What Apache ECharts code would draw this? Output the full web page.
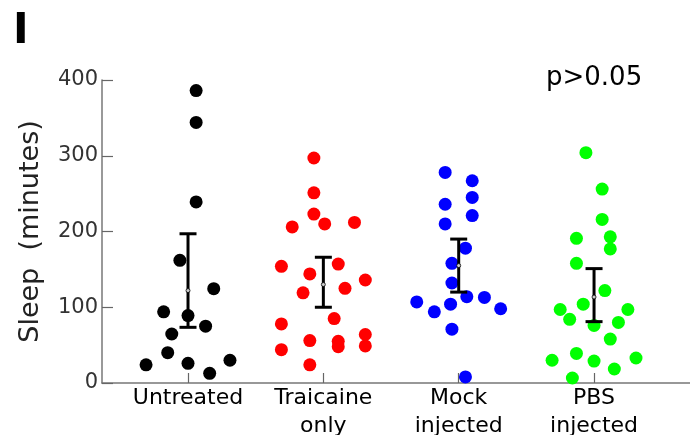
<!DOCTYPE html>
<html>
<head>
<meta charset="utf-8">
<script src="https://cdn.jsdelivr.net/npm/echarts@6/dist/echarts.min.js"></script>
<style>
  html, body { margin: 0; padding: 0; background: #fff; }
  #chart { width: 690px; height: 435px; }
</style>
</head>
<body>
<div id="chart"></div>
<script>
// Group names (x-axis labels)
const categories = ['Untreated', 'Traicaine\nonly', 'Mock\ninjected', 'PBS\ninjected'];
const groupColors = ['#000000', '#ff0000', '#0000ff', '#00ff00'];

// Sleep per fish (minutes) and horizontal spread within each group (fraction of group spacing)
const untreatedSleep  = [386, 344, 239, 162, 124.5, 94, 89, 75, 64.7, 40, 24, 26, 30, 12.8];
const untreatedSpread = [0.06, 0.06, 0.06, -0.06, 0.19, -0.18, 0, 0.13, -0.12, -0.15, -0.31, 0, 0.31, 0.16];

const traicaineSleep  = [297, 251, 223, 206, 210, 212, 154, 157, 144, 136, 119, 125, 85, 78, 56, 55, 48, 64, 49, 44, 24];
const traicaineSpread = [-0.07, -0.07, -0.07, -0.23, 0.01, 0.23, -0.31, 0.11, -0.10, 0.31, -0.15, 0.16, 0.08, -0.31, -0.10, 0.11, 0.11, 0.31, 0.31, -0.31, -0.10];

const mockSleep  = [278, 267, 245, 236, 221, 210, 178, 158, 132, 114, 113, 107, 104, 94, 98, 71, 8];
const mockSpread = [-0.10, 0.10, 0.10, -0.10, 0.10, -0.10, 0.05, -0.05, -0.05, 0.06, 0.19, -0.31, -0.06, -0.18, 0.31, -0.05, 0.05];

const pbsSleep  = [304, 256, 216, 191, 193, 177, 158, 122, 104, 97, 97, 84, 76, 80, 58, 39, 30, 29, 33, 18.5, 6.6];
const pbsSpread = [-0.06, 0.06, 0.06, -0.13, 0.12, 0.12, -0.13, 0.08, -0.08, -0.25, 0.25, -0.18, 0, 0.18, 0.12, -0.13, -0.31, 0, 0.31, 0.15, -0.16];

// Group mean with error-bar limits
const groupMeans = [122, 130, 155, 113.5];
const errorLow   = [73.5, 100, 120, 81];
const errorHigh  = [197, 166, 190, 151];

const yTickValues = [0, 100, 200, 300, 400];

const groups = [
  [untreatedSleep, untreatedSpread],
  [traicaineSleep, traicaineSpread],
  [mockSleep, mockSpread],
  [pbsSleep, pbsSpread]
];

const FONT = 'DejaVu Sans';
const groupPos = categories.map((_, i) => i + 1);

const dotSeries = groups.map(([vals, spread], g) => ({
  type: 'scatter',
  symbol: 'circle',
  symbolSize: 13,
  itemStyle: { color: groupColors[g], opacity: 1 },
  z: 2,
  silent: true,
  data: vals.map((v, k) => [groupPos[g] + spread[k], v])
}));

const errorSeries = {
  type: 'custom',
  z: 5,
  silent: true,
  renderItem: function (params, api) {
    const x = api.value(0);
    const pLo = api.coord([x, api.value(1)]);
    const pHi = api.coord([x, api.value(2)]);
    const half = 8.5;
    const st = { stroke: '#000', lineWidth: 3 };
    return {
      type: 'group',
      children: [
        { type: 'line', shape: { x1: pHi[0], y1: pHi[1], x2: pLo[0], y2: pLo[1] }, style: st },
        { type: 'line', shape: { x1: pHi[0] - half, y1: pHi[1], x2: pHi[0] + half, y2: pHi[1] }, style: st },
        { type: 'line', shape: { x1: pLo[0] - half, y1: pLo[1], x2: pLo[0] + half, y2: pLo[1] }, style: st }
      ]
    };
  },
  encode: { x: 0, y: [1, 2] },
  data: groupPos.map((x, i) => [x, errorLow[i], errorHigh[i]])
};

const meanSeries = {
  type: 'scatter',
  symbol: 'circle',
  symbolSize: 4,
  z: 6,
  silent: true,
  itemStyle: { color: '#fff', borderColor: '#000', borderWidth: 1 },
  data: groupPos.map((x, i) => [x, groupMeans[i]])
};

const chart = echarts.init(document.getElementById('chart'), null, { renderer: 'canvas' });
chart.setOption({
  animation: false,
  backgroundColor: '#fff',
  grid: { left: 102, right: 0, top: 80, bottom: 52, outerBoundsMode: 'none', containLabel: false },
  xAxis: {
    type: 'value',
    min: 0.3645,
    max: 4.709,
    splitLine: { show: false },
    axisLine: { show: true, onZero: false, lineStyle: { color: '#777', width: 1.5 } },
    axisTick: { show: true, inside: true, length: 10, customValues: groupPos, lineStyle: { color: '#666', width: 1.2 } },
    axisLabel: {
      customValues: groupPos,
      formatter: v => categories[Math.round(v) - 1],
      fontFamily: FONT, fontSize: 22, color: '#000', lineHeight: 28, margin: 1
    }
  },
  yAxis: {
    type: 'value',
    min: 0, max: 400, interval: 100,
    splitLine: { show: false },
    axisLine: { show: true, lineStyle: { color: '#777', width: 1.5 } },
    axisTick: { show: true, inside: true, length: 11, lineStyle: { color: '#666', width: 1.2 } },
    axisLabel: {
      customValues: yTickValues,
      fontFamily: FONT, fontSize: 21, color: '#333', margin: 4
    },
    name: 'Sleep  (minutes)',
    nameLocation: 'middle',
    nameGap: 58,
    nameTextStyle: { fontFamily: FONT, fontSize: 27, color: '#222' }
  },
  graphic: [
    { type: 'text', left: 13, top: 11, style: { text: 'I', font: 'bold 42px "DejaVu Sans"', fill: '#000' } },
    { type: 'text', left: 546, top: 65, style: { text: 'p>0.05', font: '26px "DejaVu Sans"', fill: '#000' } }
  ],
  series: [...dotSeries, errorSeries, meanSeries]
});
</script>
</body>
</html>
